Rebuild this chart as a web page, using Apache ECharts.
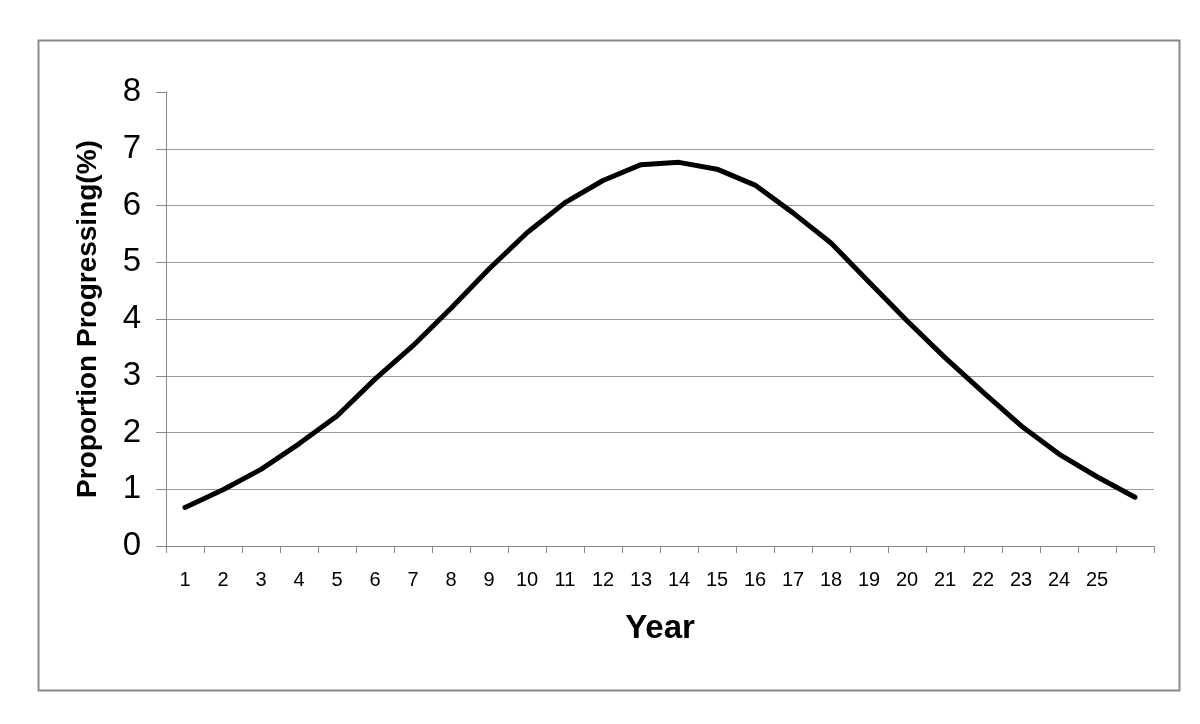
<!DOCTYPE html>
<html>
<head>
<meta charset="utf-8">
<title>Proportion Progressing</title>
<script src="https://cdn.jsdelivr.net/npm/echarts@6/dist/echarts.min.js"></script>
<style>
  html, body { margin: 0; padding: 0; background: #fff; }
  #chart { width: 1200px; height: 724px; }
</style>
</head>
<body>
<div id="chart"></div>
<script>
// years 1..26, the last one has no label in the original
const years = ["1", "2", "3", "4", "5", "6", "7", "8", "9", "10", "11", "12", "13",
  "14", "15", "16", "17", "18", "19", "20", "21", "22", "23", "24", "25", ""];
const progressing = [0.68, 0.99, 1.35, 1.8, 2.29, 2.94, 3.53, 4.19, 4.88, 5.52, 6.05, 6.44, 6.72,
  6.76, 6.64, 6.36, 5.87, 5.34, 4.65, 3.97, 3.32, 2.71, 2.12, 1.62, 1.22, 0.86];
// 9 split lines (0..8): no line drawn at 8
const gridColors = ["#999", "#999", "#999", "#999", "#999", "#999", "#999", "#999", "rgba(0,0,0,0)"];

const font = "'Liberation Sans', Arial, Helvetica, sans-serif";

let myChart = echarts.init(document.getElementById("chart"), null, { renderer: "canvas" });

let option = {
  backgroundColor: "#fff",
  animation: false,
  graphic: [
    {
      type: "rect",
      left: 36,
      top: 38,
      shape: { width: 1141, height: 650 },
      style: { fill: "none", stroke: "#8a8a8a", lineWidth: 2 },
      silent: true,
    },
  ],
  grid: {
    left: 166,
    right: 46,
    top: 92,
    bottom: 178,
  },
  xAxis: {
    type: "category",
    data: years,
    boundaryGap: true,
    name: "Year",
    nameLocation: "middle",
    nameGap: 66,
    nameTextStyle: {
      fontFamily: font,
      fontSize: 33,
      fontWeight: "bold",
      color: "#000",
    },
    axisLine: { show: true, lineStyle: { color: "#888", width: 1 } },
    axisTick: {
      show: true,
      alignWithLabel: false,
      length: 7,
      lineStyle: { color: "#888" },
    },
    axisLabel: {
      interval: 0,
      margin: 24,
      fontFamily: font,
      fontSize: 20,
      color: "#000",
    },
    splitLine: { show: false },
  },
  yAxis: {
    type: "value",
    min: 0,
    max: 8,
    interval: 1,
    name: "Proportion Progressing(%)",
    nameLocation: "middle",
    nameGap: 64,
    nameTextStyle: {
      fontFamily: font,
      fontSize: 28,
      fontWeight: "bold",
      color: "#000",
    },
    axisLine: { show: true, lineStyle: { color: "#888", width: 1 } },
    axisTick: { show: true, length: 10, lineStyle: { color: "#888" } },
    axisLabel: {
      margin: 25,
      fontFamily: font,
      fontSize: 33,
      color: "#000",
    },
    splitLine: {
      show: true,
      lineStyle: { color: gridColors, width: 1 },
    },
  },
  series: [
    {
      name: "Proportion Progressing",
      type: "line",
      data: progressing,
      symbol: "none",
      smooth: false,
      lineStyle: { color: "#000", width: 5, cap: "round", join: "round" },
    },
  ],
};

myChart.setOption(option);
window.onresize = function() {
  myChart.resize();
};
</script>
</body>
</html>
